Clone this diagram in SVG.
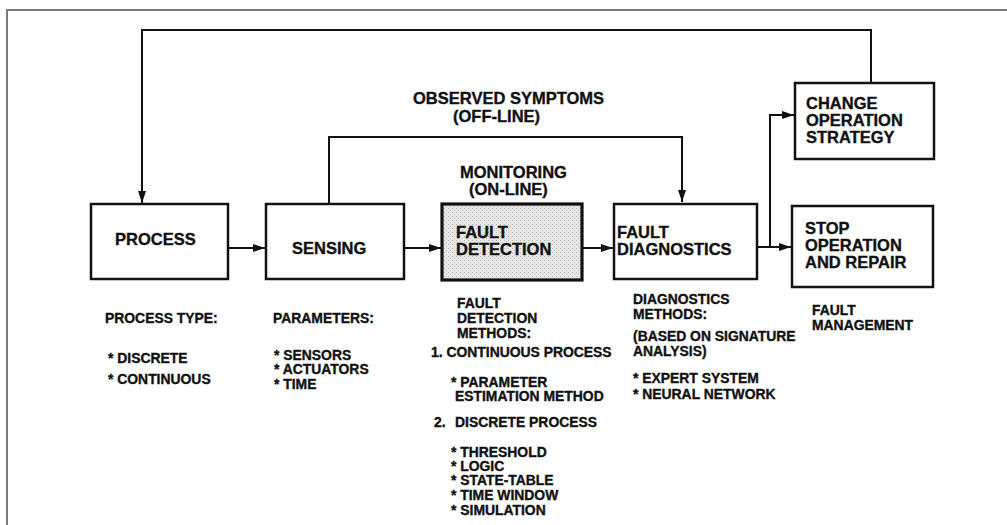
<svg xmlns="http://www.w3.org/2000/svg" width="1007" height="525" viewBox="0 0 1007 525">
  <style>
    text { font-family: "Liberation Sans", Arial, Helvetica, sans-serif; font-weight: bold; fill: #111; stroke: #111; stroke-width: 0.35; }
    .big { font-size: 16.5px; }
    .small { font-size: 13.9px; }
    .box { fill: #ffffff; stroke: #111; stroke-width: 2.5; }
    .shaded { stroke: #111; stroke-width: 3.2; }
    .wire { fill: none; stroke: #111; stroke-width: 2; }
  </style>
  <defs>
    <marker id="arrow" viewBox="0 0 12 8" refX="12" refY="4" markerWidth="12" markerHeight="8" markerUnits="userSpaceOnUse" orient="auto">
      <path d="M0,0 L12,4 L0,8 Z" fill="#111"/>
    </marker>
    <pattern id="stipple" width="4" height="4" patternUnits="userSpaceOnUse">
      <rect width="4" height="4" fill="#e6e6e6"/>
      <rect x="0" y="0" width="1" height="1" fill="#b8b8b8"/>
      <rect x="2" y="2" width="1" height="1" fill="#c8c8c8"/>
    </pattern>
  </defs>

  <!-- page frame -->
  <path d="M7,525 V10 H1007" fill="none" stroke="#7a7a7a" stroke-width="2"/>

  <!-- connectors -->
  <g id="connectors">
    <path class="wire" d="M871,83 V30 H142 V203" marker-end="url(#arrow)"/>
    <path class="wire" d="M329,204 V137 H682 V202" marker-end="url(#arrow)"/>
    <path class="wire" d="M228,248 H265" marker-end="url(#arrow)"/>
    <path class="wire" d="M404,248 H441" marker-end="url(#arrow)"/>
    <path class="wire" d="M582,248 H613" marker-end="url(#arrow)"/>
    <path class="wire" d="M757,247 H791" marker-end="url(#arrow)"/>
    <path class="wire" d="M770,247 V115 H794" marker-end="url(#arrow)"/>
  </g>

  <!-- floating labels -->
  <g id="labels">
    <text class="big" x="413" y="104">OBSERVED SYMPTOMS</text>
    <text class="big" x="453" y="122">(OFF-LINE)</text>
    <text class="big" x="460" y="178">MONITORING</text>
    <text class="big" x="469" y="195">(ON-LINE)</text>
  </g>

  <g id="process">
    <rect class="box" x="91" y="204" width="137" height="75"/>
    <text class="big" x="115" y="245">PROCESS</text>
    <text class="small" x="105" y="323">PROCESS TYPE:</text>
    <text class="small" x="108" y="363">* DISCRETE</text>
    <text class="small" x="108" y="384">* CONTINUOUS</text>
  </g>

  <g id="sensing">
    <rect class="box" x="266" y="204" width="138" height="75"/>
    <text class="big" x="292" y="254">SENSING</text>
    <text class="small" x="273" y="323">PARAMETERS:</text>
    <text class="small" x="274" y="360">* SENSORS</text>
    <text class="small" x="274" y="374">* ACTUATORS</text>
    <text class="small" x="274" y="389">* TIME</text>
  </g>

  <g id="fault-detection">
    <rect class="shaded" x="442" y="204" width="140" height="76" fill="url(#stipple)"/>
    <text class="big" x="456" y="238">FAULT</text>
    <text class="big" x="456" y="255">DETECTION</text>
    <text class="small" x="457" y="308">FAULT</text>
    <text class="small" x="457" y="323">DETECTION</text>
    <text class="small" x="457" y="338">METHODS:</text>
    <text class="small" x="431" y="357">1. CONTINUOUS PROCESS</text>
    <text class="small" x="451" y="387">* PARAMETER</text>
    <text class="small" x="455" y="401">ESTIMATION METHOD</text>
    <text class="small" x="434" y="427">2.<tspan x="455">DISCRETE PROCESS</tspan></text>
    <text class="small" x="451" y="457">* THRESHOLD</text>
    <text class="small" x="451" y="471">* LOGIC</text>
    <text class="small" x="451" y="485">* STATE-TABLE</text>
    <text class="small" x="451" y="500">* TIME WINDOW</text>
    <text class="small" x="451" y="515">* SIMULATION</text>
  </g>

  <g id="fault-diagnostics">
    <rect class="box" x="614" y="204" width="143" height="75"/>
    <text class="big" x="617" y="238">FAULT</text>
    <text class="big" x="617" y="255">DIAGNOSTICS</text>
    <text class="small" x="633" y="304">DIAGNOSTICS</text>
    <text class="small" x="633" y="319">METHODS:</text>
    <text class="small" x="633" y="341">(BASED ON SIGNATURE</text>
    <text class="small" x="633" y="356">ANALYSIS)</text>
    <text class="small" x="633" y="383">* EXPERT SYSTEM</text>
    <text class="small" x="633" y="399">* NEURAL NETWORK</text>
  </g>

  <g id="change-strategy">
    <rect class="box" x="795" y="83" width="139" height="76"/>
    <text class="big" x="806" y="109">CHANGE</text>
    <text class="big" x="806" y="126">OPERATION</text>
    <text class="big" x="806" y="143">STRATEGY</text>
  </g>

  <g id="stop-repair">
    <rect class="box" x="792" y="206" width="141" height="81"/>
    <text class="big" x="805" y="234">STOP</text>
    <text class="big" x="805" y="251">OPERATION</text>
    <text class="big" x="805" y="268">AND REPAIR</text>
    <text class="small" x="812" y="315">FAULT</text>
    <text class="small" x="812" y="330">MANAGEMENT</text>
  </g>
</svg>
